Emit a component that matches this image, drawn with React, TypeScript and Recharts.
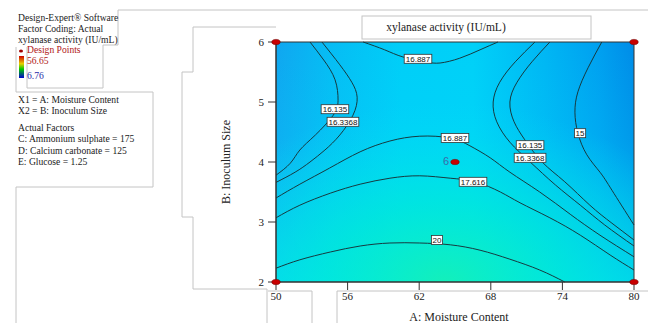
import React from 'react';
import { ComposedChart, Line, Scatter, XAxis, YAxis, ReferenceArea, Label } from 'recharts';

// factor ranges / ticks
const xTicks = [50, 56, 62, 68, 74, 80];
const yTicks = [2, 3, 4, 5, 6];

// contour lines, [moisture, inoculum]
const c15 = [[77.3, 6], [76.15, 5.57], [75.3, 5.17], [75.05, 4.83], [75.3, 4.48], [76.05, 4.12], [77.15, 3.83], [78.15, 3.53], [80, 2.95]];
const c16135L = [[52.85, 6], [54.0, 5.7], [54.95, 5.37], [55.2, 5.03], [54.8, 4.78], [53.3, 4.45], [52.0, 4.2], [51.2, 3.98], [50, 3.78]];
const c163368L = [[53.85, 6], [55.35, 5.62], [56.35, 5.33], [56.8, 5.08], [56.45, 4.78], [55.35, 4.45], [54.1, 4.2], [52.85, 4.0], [51.6, 3.83], [50, 3.66]];
const c16887T = [[57.3, 6], [59.1, 5.87], [60.65, 5.75], [62.5, 5.67], [63.75, 5.65], [65.4, 5.73], [67.1, 5.87], [68.6, 6]];
const c16887B = [[50, 3.4], [52.0, 3.63], [54.5, 3.9], [57.05, 4.17], [59.55, 4.35], [62.05, 4.43], [64.6, 4.4], [66.25, 4.27], [67.95, 4.07], [69.6, 3.83], [72.1, 3.5], [74.65, 3.13], [77.15, 2.78], [80, 2.42]];
const c17616 = [[50, 3.07], [52.0, 3.28], [54.55, 3.48], [57.05, 3.63], [59.55, 3.73], [62.05, 3.77], [64.6, 3.73], [66.7, 3.67], [68.8, 3.5], [70.45, 3.32], [72.95, 3.07], [75.5, 2.78], [78.0, 2.45], [80, 2.2]];
const c20 = [[50, 2.23], [52.0, 2.37], [54.55, 2.5], [57.05, 2.6], [59.55, 2.65], [62.05, 2.65], [64.6, 2.62], [67.1, 2.53], [69.6, 2.38], [72.1, 2.2], [74.2, 2.0]];
const c16135R = [[72.95, 6], [71.45, 5.67], [70.2, 5.33], [69.6, 5.0], [69.95, 4.67], [70.85, 4.37], [72.3, 4.0], [74.2, 3.67], [76.3, 3.28], [78.15, 2.98], [80, 2.7]];
const c163368R = [[71.7, 6], [70.05, 5.67], [68.75, 5.33], [68.2, 5.0], [68.5, 4.67], [69.6, 4.33], [71.3, 4.0], [73.4, 3.62], [75.5, 3.28], [77.55, 2.95], [80, 2.6]];

const contours = [c15, c16135L, c163368L, c16887T, c16887B, c17616, c20, c16135R, c163368R];

// contour labels
const labelText = ['16.887', '16.135', '16.3368', '16.887', '16.135', '16.3368', '15', '17.616', '20'];
const labelX = [61.9, 54.94, 55.61, 65.0, 71.29, 71.29, 75.48, 66.51, 63.49];
const labelY = [5.72, 4.88, 4.67, 4.4, 4.28, 4.07, 4.48, 3.67, 2.7];

// design points (count of replicates)
const designX = [50, 50, 80, 80, 65];
const designY = [2, 6, 2, 6, 4];
const designN = [1, 1, 1, 1, 6];

const toXY = (pts: number[][]) => pts.map(([x, y]) => ({ x, y }));
const labelData = labelText.map((t, i) => ({ x: labelX[i], y: labelY[i], text: t }));
const designData = designX.map((x, i) => ({ x, y: designY[i], n: designN[i] }));

const serif = '"Liberation Serif", "Times New Roman", serif';
const sans = '"Liberation Sans", Arial, sans-serif';

const LabelBox = (props: any) => {
  const { cx, cy, payload } = props;
  const w = payload.text.length * 4.1 + 3;
  return (
    <g>
      <rect x={cx - w / 2} y={cy - 4.5} width={w} height={9} fill="#fff" stroke="#333" strokeWidth={0.8} />
      <text x={cx} y={cy + 3} textAnchor="middle" fontSize={8} fontFamily={sans} fill="#111">
        {payload.text}
      </text>
    </g>
  );
};

const DesignDot = (props: any) => {
  const { cx, cy, payload } = props;
  return (
    <g>
      <ellipse cx={cx} cy={cy} rx={4.2} ry={2.6} fill="#c80000" stroke="#7a0000" strokeWidth={0.6} />
      {payload.n > 1 && (
        <text x={cx - 6} y={cy + 3} textAnchor="end" fontSize={11} fontFamily={sans} fill="#3a6aa8">
          {payload.n}
        </text>
      )}
    </g>
  );
};

const sideText = [
  { t: 'Design-Expert® Software', y: 18 },
  { t: 'Factor Coding: Actual', y: 29 },
  { t: 'xylanase activity (IU/mL)', y: 40 },
  { t: 'X1 = A: Moisture Content', y: 100 },
  { t: 'X2 = B: Inoculum Size', y: 111 },
  { t: 'Actual Factors', y: 128 },
  { t: 'C: Ammonium sulphate = 175', y: 139 },
  { t: 'D: Calcium carbonate = 125', y: 151 },
  { t: 'E: Glucose = 1.25', y: 162 },
];

const sideFont = 9.6;

export default function App() {
  return (
    <div style={{ position: 'absolute', left: 0, top: 0, width: 648, height: 323, background: '#fff', overflow: 'hidden' }}>
      {/* window frame leftovers */}
      <svg width={648} height={323} style={{ position: 'absolute', left: 0, top: 0 }}>
        <g fill="none" stroke="#c4c4c4" strokeWidth={1}>
          <polyline points="118,10 648,10" />
          <polyline points="118,10 118,45 103,45 103,88 27,88 27,47" />
          <polyline points="16,47 16,92 153,92 153,187 16,187 16,323" />
          <polyline points="276,27 193,27 193,72 182,72 182,217 193,217 193,289 267,289 267,323" />
          <polyline points="312,323 312,291 268,291" />
          <polyline points="337,323 337,291 648,291" />
          <rect x={362} y={16} width={229} height={23} />
        </g>
        <defs>
          <linearGradient id="cbar" x1="0" y1="0" x2="0" y2="1">
            <stop offset="0" stopColor="#d00000" />
            <stop offset="0.35" stopColor="#e8d000" />
            <stop offset="0.6" stopColor="#00c800" />
            <stop offset="1" stopColor="#0000d0" />
          </linearGradient>
        </defs>
        <rect x={19} y={56} width={5} height={22} fill="url(#cbar)" />
        <ellipse cx={21} cy={51} rx={2} ry={1.5} fill="#a00000" />
      </svg>
      {sideText.map((s) => (
        <div key={s.t} style={{ position: 'absolute', left: 18, top: s.y - 7, lineHeight: '14px', fontSize: sideFont, fontFamily: serif, color: '#222', whiteSpace: 'nowrap' }}>
          {s.t}
        </div>
      ))}
      <div style={{ position: 'absolute', left: 27, top: 43, lineHeight: '14px', fontSize: sideFont, fontFamily: serif, color: '#b01818' }}>Design Points</div>
      <div style={{ position: 'absolute', left: 27, top: 54, lineHeight: '14px', fontSize: sideFont, fontFamily: serif, color: '#b01818' }}>56.65</div>
      <div style={{ position: 'absolute', left: 27, top: 69, lineHeight: '14px', fontSize: sideFont, fontFamily: serif, color: '#2a2aa8' }}>6.76</div>
      <div style={{ position: 'absolute', left: 362, top: 16, width: 168, lineHeight: '23px', textAlign: 'center', fontSize: 11.5, fontFamily: serif, color: '#222', whiteSpace: 'nowrap' }}>
        xylanase activity (IU/mL)
      </div>

      <div style={{ position: 'absolute', left: 0, top: 0 }}>
        <ComposedChart width={648} height={323} margin={{ top: 42, right: 14, bottom: 0, left: 0 }}>
          <defs>
            <linearGradient id="bgH" x1="0" y1="0" x2="1" y2="0">
              <stop offset="0" stopColor="#10a6f0" />
              <stop offset="0.15" stopColor="#06bcf4" />
              <stop offset="0.35" stopColor="#00cef8" />
              <stop offset="0.55" stopColor="#00d0f8" />
              <stop offset="0.75" stopColor="#00b6f4" />
              <stop offset="0.9" stopColor="#00a0f0" />
              <stop offset="1" stopColor="#008ce8" />
            </linearGradient>
            <linearGradient id="bgV" x1="0" y1="0" x2="0" y2="1">
              <stop offset="0" stopColor="#00e8f8" stopOpacity={0} />
              <stop offset="0.4" stopColor="#00e4f8" stopOpacity={0.15} />
              <stop offset="1" stopColor="#00ecf0" stopOpacity={0.7} />
            </linearGradient>
            <radialGradient id="bgR" cx="0.47" cy="1" r="0.75">
              <stop offset="0" stopColor="#14f0b8" stopOpacity={0.95} />
              <stop offset="0.45" stopColor="#00eed0" stopOpacity={0.55} />
              <stop offset="1" stopColor="#00e4f0" stopOpacity={0} />
            </radialGradient>
          </defs>
          <XAxis
            type="number"
            dataKey="x"
            domain={[50, 80]}
            ticks={xTicks}
            interval={0}
            height={41}
            tickSize={8}
            tickMargin={2}
            stroke="#333"
            tick={{ fontSize: 11, fontFamily: serif, fill: '#222' }}
          >
            <Label value="A: Moisture Content" position="center" dx={4} dy={14} style={{ fontSize: 12, fontFamily: serif, fill: '#222' }} />
          </XAxis>
          <YAxis
            type="number"
            dataKey="y"
            domain={[2, 6]}
            ticks={yTicks}
            interval={0}
            width={276}
            tickSize={8}
            tickMargin={4}
            stroke="#333"
            tick={{ fontSize: 11, fontFamily: serif, fill: '#222' }}
          >
            <Label value="B: Inoculum Size" angle={-90} position="center" dx={88} style={{ fontSize: 12, fontFamily: serif, fill: '#222', textAnchor: 'middle' }} />
          </YAxis>
          <ReferenceArea x1={50} x2={80} y1={2} y2={6} fill="url(#bgH)" fillOpacity={1} stroke="none" />
          <ReferenceArea x1={50} x2={80} y1={2} y2={6} fill="url(#bgV)" fillOpacity={1} stroke="none" />
          <ReferenceArea x1={50} x2={80} y1={2} y2={6} fill="url(#bgR)" fillOpacity={1} stroke="none" />
          <ReferenceArea x1={50} x2={80} y1={2} y2={6} fill="none" stroke="#333" strokeWidth={1} />
          {contours.map((c, i) => (
            <Line
              key={i}
              data={toXY(c)}
              dataKey="y"
              type="natural"
              stroke="#163a40"
              strokeWidth={1}
              dot={false}
              activeDot={false}
              isAnimationActive={false}
            />
          ))}
          <Scatter data={labelData} shape={<LabelBox />} isAnimationActive={false} />
          <Scatter data={designData} shape={<DesignDot />} isAnimationActive={false} />
        </ComposedChart>
      </div>
    </div>
  );
}
